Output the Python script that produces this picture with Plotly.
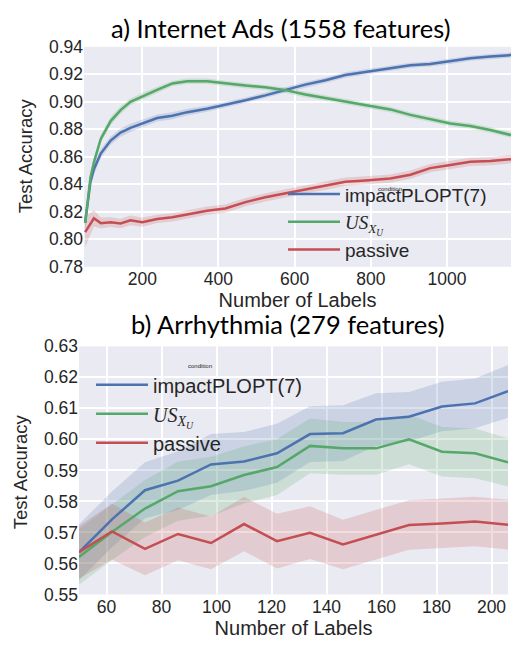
import plotly.graph_objects as go

# ---------------- data: a) Internet Ads ----------------
ads_x = [50, 64, 73, 91, 117, 143, 169, 200, 239, 279, 318, 370, 418, 471, 523,
         576, 628, 681, 733, 786, 851, 904, 956, 1009, 1061, 1114, 1168]
ads_impact = [0.812, 0.842, 0.851, 0.8624, 0.8718, 0.8776, 0.8811, 0.8842, 0.8882, 0.8899,
              0.8925, 0.8950, 0.8977, 0.9012, 0.9047, 0.9088, 0.9125, 0.9157, 0.9195, 0.9217,
              0.9242, 0.9266, 0.9275, 0.9294, 0.9317, 0.9329, 0.9340]
ads_impact_err = [0.005, 0.004, 0.004, 0.0035, 0.003, 0.003, 0.003, 0.0028, 0.0025, 0.0025,
                  0.0025, 0.0022, 0.0022, 0.002, 0.002, 0.002, 0.002, 0.002, 0.002, 0.002,
                  0.0018, 0.0018, 0.0018, 0.0018, 0.0018, 0.0018, 0.0018]
ads_us = [0.812, 0.845, 0.856, 0.873, 0.886, 0.894, 0.900, 0.904, 0.9087, 0.9134,
          0.9150, 0.9150, 0.9134, 0.9118, 0.9106, 0.9085, 0.9054, 0.9028, 0.9000, 0.8977,
          0.8945, 0.8905, 0.8871, 0.8842, 0.8825, 0.8795, 0.8758]
ads_us_err = [0.005, 0.004, 0.0035, 0.003, 0.003, 0.0028, 0.0025, 0.0025, 0.0022, 0.002,
              0.002, 0.002, 0.002, 0.002, 0.002, 0.002, 0.002, 0.002, 0.002, 0.002,
              0.002, 0.002, 0.002, 0.002, 0.002, 0.002, 0.002]
ads_passive = [0.8052, 0.811, 0.8153, 0.8118, 0.8125, 0.8115, 0.8138, 0.8125, 0.8148, 0.8160,
               0.8180, 0.8208, 0.8224, 0.8271, 0.8306, 0.8334, 0.8365, 0.8388, 0.8419, 0.8428,
               0.8442, 0.8470, 0.8518, 0.8541, 0.8564, 0.8569, 0.8583]
ads_passive_err = [0.011, 0.008, 0.006, 0.004, 0.0035, 0.0035, 0.0035, 0.0033, 0.003, 0.003,
                   0.003, 0.003, 0.003, 0.003, 0.003, 0.003, 0.003, 0.003, 0.003, 0.003,
                   0.003, 0.003, 0.003, 0.003, 0.003, 0.003, 0.003]

# ---------------- data: b) Arrhythmia ----------------
arr_x = [50, 62, 74, 86, 98, 110, 122, 134, 146, 158, 170, 182, 194, 206]
arr_impact = [0.5636, 0.5742, 0.5836, 0.5867, 0.5919, 0.5929, 0.5955, 0.6017, 0.6020, 0.6064,
              0.6073, 0.6106, 0.6116, 0.6155]
arr_impact_err = [0.0090, 0.0090, 0.0090, 0.0095, 0.0098, 0.0095, 0.0095, 0.0090, 0.0090, 0.0085,
                  0.0080, 0.0080, 0.0080, 0.0085]
arr_us = [0.5621, 0.5701, 0.5777, 0.5833, 0.5849, 0.5885, 0.5911, 0.5979, 0.5971, 0.5971,
          0.6000, 0.5960, 0.5955, 0.5926]
arr_us_err = [0.0090, 0.0090, 0.0092, 0.0095, 0.0095, 0.0092, 0.0090, 0.0088, 0.0085, 0.0085,
              0.0080, 0.0080, 0.0080, 0.0078]
arr_passive = [0.5636, 0.5703, 0.5647, 0.5695, 0.5666, 0.5727, 0.5672, 0.5699, 0.5661, 0.5693,
               0.5724, 0.5729, 0.5735, 0.5725]
arr_passive_err = [0.0085, 0.0090, 0.0085, 0.0085, 0.0085, 0.0088, 0.0088, 0.0085, 0.0080, 0.0080,
                   0.0080, 0.0080, 0.0080, 0.0080]

series_names = ["impactPLOPT(7)",
                "<span style='font-family:Liberation Serif'><i>US</i><sub><i>X<sub>U</sub></i></sub></span>",
                "passive"]
colors = ["#4C72B0", "#55A868", "#C44E52"]
fills = ["rgba(76,114,176,0.2)", "rgba(85,168,104,0.2)", "rgba(196,78,82,0.2)"]

W, H = 514, 650
fig = go.Figure()

def add_panel(x, ys, errs, xa, ya, legend):
    for i, (y, e) in enumerate(zip(ys, errs)):
        up = [a + b for a, b in zip(y, e)]
        lo = [a - b for a, b in zip(y, e)]
        fig.add_trace(go.Scatter(x=x + x[::-1], y=up + lo[::-1], fill="toself",
                                 fillcolor=fills[i], line=dict(width=0), mode="lines",
                                 hoverinfo="skip", showlegend=False, xaxis=xa, yaxis=ya))
    for i, y in enumerate(ys):
        fig.add_trace(go.Scatter(x=x, y=y, mode="lines", name=series_names[i],
                                 line=dict(color=colors[i], width=2.5),
                                 xaxis=xa, yaxis=ya, legend=legend))

add_panel(ads_x, [ads_impact, ads_us, ads_passive],
          [ads_impact_err, ads_us_err, ads_passive_err], "x", "y", "legend")
add_panel(arr_x, [arr_impact, arr_us, arr_passive],
          [arr_impact_err, arr_us_err, arr_passive_err], "x2", "y2", "legend2")

SANS = "Liberation Sans"
tickfont = dict(family=SANS, size=17.5, color="#262626")
xtitlefont = dict(family=SANS, size=20, color="#262626")
ytitlefont = dict(family=SANS, size=18.5, color="#262626")
axcommon = dict(showgrid=True, gridcolor="white", gridwidth=1.6, zeroline=False,
                showline=False, ticks="", tickfont=tickfont)

def yp(p):
    return 1 - p / H

def xp(p):
    return p / W

fig.update_layout(
    width=W, height=H,
    margin=dict(l=0, r=0, t=0, b=0),
    paper_bgcolor="white", plot_bgcolor="#EAEAF2",
    xaxis=dict(domain=[xp(84), xp(511)], range=[47, 1168], tickvals=[200, 400, 600, 800, 1000],
               anchor="y", title=dict(text="Number of Labels", font=xtitlefont, standoff=0),
               **axcommon),
    yaxis=dict(domain=[yp(265), yp(38)], range=[0.78, 0.94], dtick=0.02,
               tickformat=".2f", anchor="x", **axcommon),
    xaxis2=dict(domain=[xp(79), xp(508)], range=[50, 206], dtick=20, tick0=0,
                anchor="y2", title=dict(text="Number of Labels", font=xtitlefont, standoff=0),
                **axcommon),
    yaxis2=dict(domain=[yp(603), yp(347)], range=[0.55, 0.63], dtick=0.01,
                tickformat=".2f", anchor="x2", **axcommon),
    legend=dict(x=xp(283), y=yp(170.5), xanchor="left", yanchor="top",
                bgcolor="rgba(0,0,0,0)", font=dict(family=SANS, size=19, color="#262626"),
                tracegroupgap=0, itemwidth=52),
    legend2=dict(x=xp(91), y=yp(366.5), xanchor="left", yanchor="top",
                 bgcolor="rgba(0,0,0,0)", font=dict(family=SANS, size=20, color="#262626"),
                 tracegroupgap=0, itemwidth=52),
    annotations=[
        dict(text="a) Internet Ads (1558 features)", x=xp(281), y=yp(19), xref="paper", yref="paper",
             showarrow=False, xanchor="center", yanchor="middle",
             font=dict(family="Lato, Open Sans", size=25.5, color="black")),
        dict(text="b) Arrhythmia (279 features)", x=xp(288), y=yp(324), xref="paper", yref="paper",
             showarrow=False, xanchor="center", yanchor="middle",
             font=dict(family="Lato, Open Sans", size=25.5, color="black")),
        dict(text="Test Accuracy", x=xp(25), y=yp(151), xref="paper", yref="paper",
             showarrow=False, xanchor="center", yanchor="middle", textangle=-90,
             font=ytitlefont),
        dict(text="Test Accuracy", x=xp(20), y=yp(477), xref="paper", yref="paper",
             showarrow=False, xanchor="center", yanchor="middle", textangle=-90,
             font=ytitlefont),
        dict(text="condition", x=xp(390), y=yp(185), xref="paper", yref="paper",
             showarrow=False, xanchor="center", yanchor="middle",
             font=dict(family=SANS, size=6, color="#262626")),
        dict(text="condition", x=xp(200), y=yp(367), xref="paper", yref="paper",
             showarrow=False, xanchor="center", yanchor="middle",
             font=dict(family=SANS, size=6, color="#262626")),
    ],
)

fig.write_html(
    "out.html",
    config={"displayModeBar": False},
    post_script="document.body.style.margin='0px';document.body.style.overflow='hidden';",
)
